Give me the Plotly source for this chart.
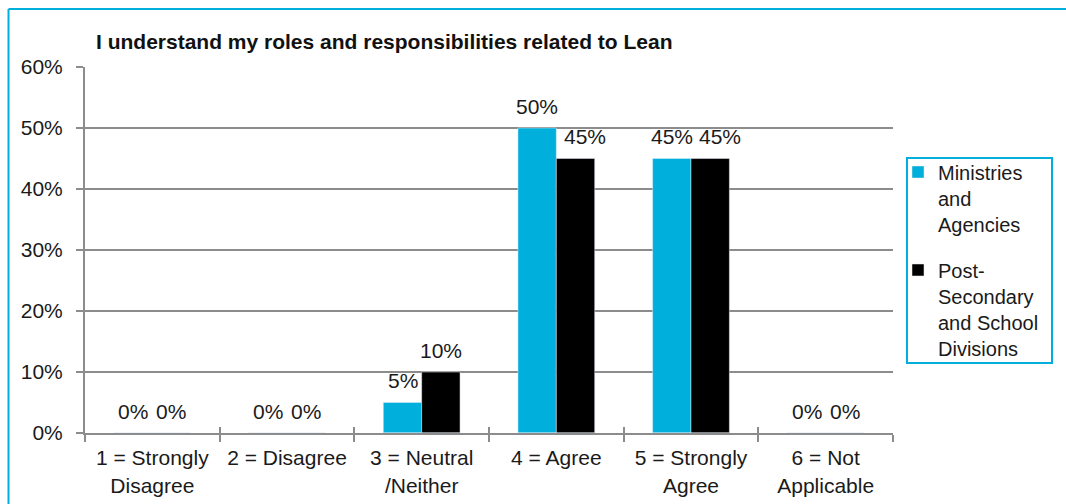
import plotly.graph_objects as go

categories = ["1 = Strongly<br>Disagree", "2 = Disagree", "3 = Neutral<br>/Neither",
              "4 = Agree", "5 = Strongly<br>Agree", "6 = Not<br>Applicable"]
ministries = [0, 0, 5, 50, 45, 0]
post_secondary = [0, 0, 10, 45, 45, 0]
series_names = ["Ministries<br>and<br>Agencies", "Post-<br>Secondary<br>and School<br>Divisions"]
y_ticks = [0, 10, 20, 30, 40, 50, 60]
y_tick_labels = [f"{v}%" for v in y_ticks]

FONT = "Liberation Sans, Arial, sans-serif"
CYAN = "#00AFDB"
GRID = "#8C8C8C"
TXT = "#1a1a1a"
FS = 21

fig = go.Figure()
fig.add_trace(go.Bar(x=categories, y=ministries, name=series_names[0],
                     marker_color=CYAN, legendgroup="a"))
fig.add_trace(go.Bar(x=categories, y=post_secondary, name=series_names[1],
                     marker_color="#000000", legendgroup="b"))

# data labels above each bar; nudge the right label when both labels are wide
annotations = []
for cat, a, b in zip(categories, ministries, post_secondary):
    wide_pair = a >= 10 and b >= 10
    for v, dx in ((a, -19), (b, 19 + (10 if wide_pair else 0))):
        annotations.append(dict(x=cat, y=v, xref="x", yref="y", text=f"{v}%",
                                showarrow=False, xshift=dx, yshift=22,
                                xanchor="center", yanchor="middle",
                                font=dict(size=FS, color=TXT, family=FONT)))

fig.update_layout(
    width=1066, height=504,
    margin=dict(l=85, r=173, t=67, b=71),
    paper_bgcolor="white", plot_bgcolor="white",
    barmode="group", bargap=0.43, bargroupgap=0,
    font=dict(family=FONT, size=FS, color=TXT),
    title=dict(text="<b>I understand my roles and responsibilities related to Lean</b>",
               x=0.0136, xref="paper", xanchor="left",
               y=1 - 42 / 504, yref="container", yanchor="middle",
               font=dict(size=21, color="#111111", family=FONT)),
    legend=dict(x=(898 - 85) / 808, xanchor="left", y=(433 - 152.5) / 366, yanchor="top",
                borderwidth=0, bgcolor="rgba(0,0,0,0)",
                font=dict(size=20, color=TXT, family=FONT),
                tracegroupgap=17, valign="top", traceorder="grouped"),
    xaxis=dict(showgrid=False, showline=True, linecolor=GRID, linewidth=2,
               ticks="outside", tickson="boundaries", ticklen=7, tickwidth=2,
               tickcolor=GRID, tickfont=dict(size=FS), zeroline=False,
               ticklabelstandoff=5, automargin=False),
    yaxis=dict(range=[0, 60], tickvals=y_ticks, ticktext=y_tick_labels,
               showgrid=True, gridcolor=GRID, gridwidth=2,
               showline=True, linecolor=GRID, linewidth=2,
               ticks="outside", ticklen=7, tickwidth=2, tickcolor=GRID,
               tickfont=dict(size=FS), zeroline=False, ticklabelstandoff=9,
               automargin=False),
    xaxis2=dict(overlaying="x", matches="x", showgrid=False, showline=False,
                ticks="inside", tickson="boundaries", ticklen=6, tickwidth=2,
                tickcolor=GRID, showticklabels=False, side="bottom",
                type="category", categoryarray=categories, automargin=False),
    annotations=annotations,
    shapes=[
        dict(type="line", xref="paper", yref="paper", x0=(8.5 - 85) / 808, x1=(8.5 - 85) / 808,
             y0=(433 - 9) / 366, y1=-0.3, line=dict(color=CYAN, width=2)),
        dict(type="line", xref="paper", yref="paper", x0=(8.5 - 85) / 808, x1=1.3,
             y0=(433 - 9) / 366, y1=(433 - 9) / 366, line=dict(color=CYAN, width=2)),
        # legend frame
        dict(type="rect", xref="paper", yref="paper",
             x0=(907 - 85) / 808, x1=(1052 - 85) / 808,
             y0=(433 - 363) / 366, y1=(433 - 158) / 366,
             line=dict(color=CYAN, width=2), fillcolor="rgba(0,0,0,0)"),
    ],
    showlegend=True,
)
fig.add_trace(go.Bar(x=categories, y=[0] * len(categories), xaxis="x2",
                     showlegend=False, hoverinfo="skip", marker_color="rgba(0,0,0,0)"))

fig.write_html("out.html")
